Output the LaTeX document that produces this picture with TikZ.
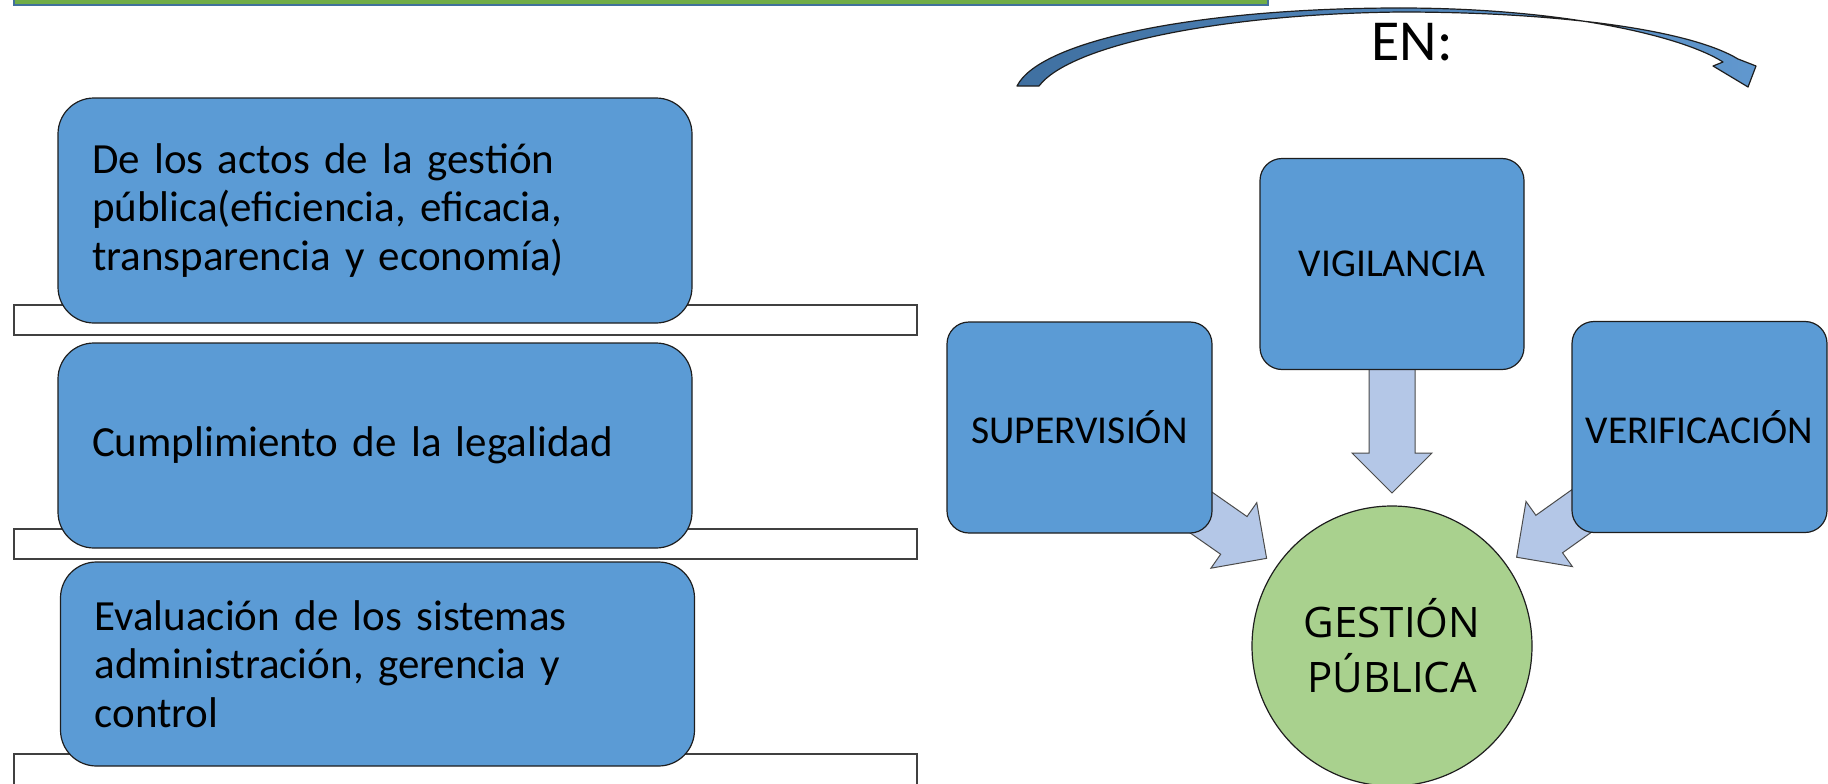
\documentclass[tikz,border=0pt]{standalone}
\usepackage{fontspec}
\setmainfont{Carlito}
\newfontfamily\hubfont{Open Sans}
\usetikzlibrary{calc,backgrounds}

\definecolor{boxblue}{HTML}{5B9BD5}
\definecolor{arrowblue}{HTML}{B4C7E7}
\definecolor{hubgreen}{HTML}{A9D18E}
\definecolor{bargreen}{HTML}{70AD47}
\definecolor{barblue}{HTML}{41719C}
\definecolor{curveblue}{HTML}{4F8CC9}
\definecolor{edge}{HTML}{1E1E1E}

\tikzset{
  itembox/.style={draw=edge, line width=1.2pt, fill=boxblue, rounded corners=36pt,
    minimum width=634pt, minimum height=#1, inner sep=0pt, text width=566pt,
    align=left, font=\fontsize{43}{48.5}\selectfont},
  shelf/.style={draw=edge!85, line width=1.3pt, fill=white},
  rolebox/.style={draw=edge, line width=1.2pt, fill=boxblue, rounded corners=22pt,
    minimum height=211pt, inner sep=0pt, font=\fontsize{39.5}{44}\selectfont},
  hub/.style={circle, draw=edge, line width=1.2pt, fill=hubgreen, minimum size=280pt,
    inner sep=0pt, align=center, font=\hubfont\fontsize{42}{55}\selectfont},
  blockarrow/.style={draw=edge!80, line width=1pt, fill=arrowblue, line join=miter},
  bendarrow/.style={draw=edge, line width=1.2pt, left color=curveblue!80!black,
    right color=curveblue!90, line join=round},
}

% block arrow: #1 start point, #2 tip point, #3 prefix for helper coordinates
\newcommand\blockarr[3]{%
  \coordinate (#3h) at ($(#2)!40pt!(#1)$);
  \path[blockarrow] ($(#1)!23pt!90:(#2)$) -- ($(#3h)!23pt!90:(#2)$)
    -- ($(#3h)!40pt!90:(#2)$) -- (#2) -- ($(#3h)!40pt!-90:(#2)$)
    -- ($(#3h)!23pt!-90:(#2)$) -- ($(#1)!23pt!-90:(#2)$) -- cycle;
}

\begin{document}
\begin{tikzpicture}[x=1pt, y=-1pt]
  \useasboundingbox (0,0) rectangle (1828,784);
  \clip (0,0) rectangle (1828,784);

  % title bar along the top edge
  \path[fill=bargreen, draw=barblue, line width=1.5pt] (14,-10) rectangle (1268,5);

  % white shelves under the left column
  \path[shelf] (14,305) rectangle (917,335);
  \path[shelf] (14,529) rectangle (917,559);
  \path[shelf] (14,754) rectangle (917,800);

  % left column
  \node[itembox=225pt] (act) at (375,210.5)
    {De los actos de la gestión\\pública(eficiencia, eficacia,\\transparencia y economía)};
  \node[itembox=205pt] (leg) at (375,445.5) {Cumplimiento de la legalidad};
  \node[itembox=204pt] (eva) at (377.5,664)
    {Evaluación de los sistemas\\administración, gerencia y\\control};

  % curved arrow with its label
  \path[bendarrow] (1017,86) .. controls (1040,40) and (1200,8) .. (1400,8)
    .. controls (1560,8) and (1680,35) .. (1723,62)
    -- (1713,66) -- (1748,87) -- (1756,66) -- (1738,59)
    .. controls (1690,30) and (1560,12) .. (1400,12)
    .. controls (1220,14) and (1070,45) .. (1039,86) -- cycle;
  \node[font=\fontsize{58}{60}\selectfont, inner sep=0pt] (en) at (1412,42.5) {EN:};

  % right cluster
  \node[rolebox, minimum width=264pt] (vig) at (1392,264) {VIGILANCIA};
  \node[rolebox, minimum width=265pt] (sup) at (1079.5,427.5) {SUPERVISIÓN};
  \node[rolebox, minimum width=255pt] (ver) at (1699.5,427) {VERIFICACIÓN};
  \node[hub] (gp) at (1392,646) {GESTIÓN\\PÚBLICA};

  \coordinate (tipV) at ($(gp.center)!153pt!(vig.center)$);
  \coordinate (tipS) at ($(gp.center)!153pt!(sup.center)$);
  \coordinate (tipR) at ($(gp.center)!153pt!(ver.center)$);

  \begin{scope}[on background layer]
    \blockarr{vig.center}{tipV}{av}
    \blockarr{sup.center}{tipS}{as}
    \blockarr{ver.center}{tipR}{ar}
  \end{scope}
\end{tikzpicture}
\end{document}
